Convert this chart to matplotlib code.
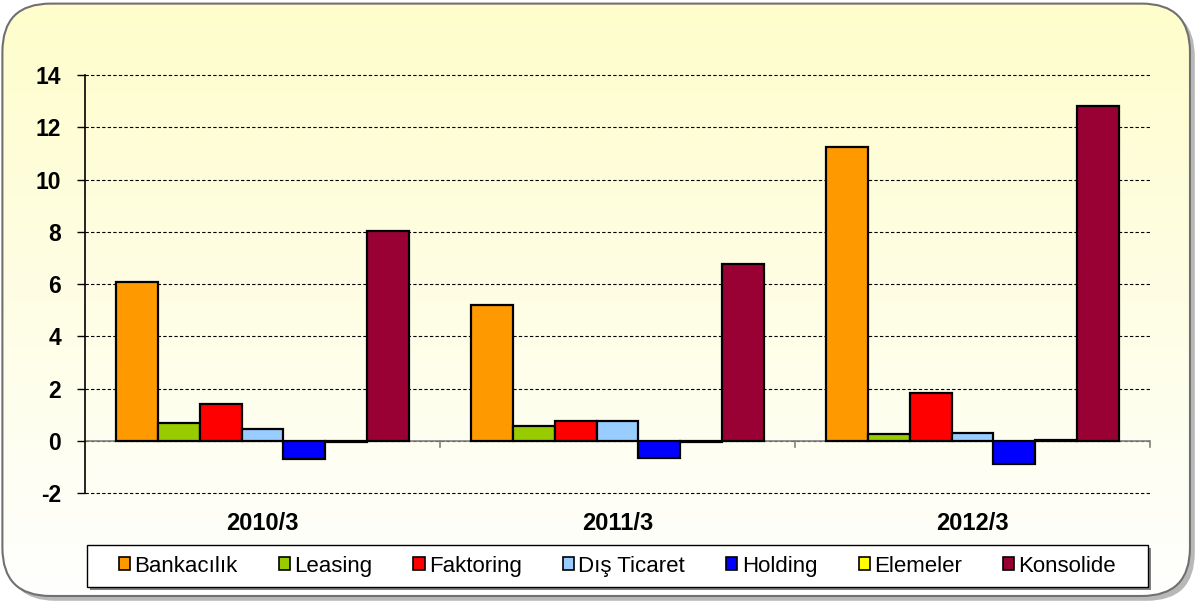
import numpy as np
import matplotlib.pyplot as plt
from matplotlib.patches import FancyBboxPatch, Rectangle
from matplotlib.colors import LinearSegmentedColormap


# Veriler
PERIODS = ['2010/3', '2011/3', '2012/3']
SERIES = ['Bankacılık', 'Leasing', 'Faktoring', 'Dış Ticaret', 'Holding', 'Elemeler', 'Konsolide']
BANKACILIK = [6.10, 5.20, 11.25]
LEASING = [0.68, 0.57, 0.27]
FAKTORING = [1.40, 0.74, 1.85]
DIS_TICARET = [0.47, 0.74, 0.29]
HOLDING = [-0.68, -0.64, -0.89]
ELEMELER = [-0.05, -0.05, 0.03]
KONSOLIDE = [8.03, 6.77, 12.82]
COLORS = ['#FF9900', '#99CC00', '#FF0000', '#99CCFF', '#0000FF', '#FFFF00', '#990033']
YTICKS = [-2, 0, 2, 4, 6, 8, 10, 12, 14]

plt.rcParams['font.family'] = ['Liberation Sans', 'DejaVu Sans']


def main () :
    values = [BANKACILIK, LEASING, FAKTORING, DIS_TICARET, HOLDING, ELEMELER, KONSOLIDE]

    fig = plt.figure (figsize=(12.02, 6.02), dpi=100)
    fig.patch.set_facecolor ('white')

    # arka plan: yuvarlak köşeli çerçeve ve sarıdan beyaza geçiş
    bg_ax = fig.add_axes ([0, 0, 1, 1], zorder=-1)
    bg_ax.set_axis_off ()
    bg_ax.set_xlim (0, 1)
    bg_ax.set_ylim (0, 1)
    box = dict (boxstyle='round,pad=0,rounding_size=0.04', mutation_aspect=2.0, transform=bg_ax.transAxes)
    shadow = FancyBboxPatch ((0.006, 0.002), 0.988, 0.984, facecolor='#B8B8B8', edgecolor='none', zorder=0, **box)
    bg_ax.add_patch (shadow)
    clip = FancyBboxPatch ((0.002, 0.010), 0.988, 0.984, facecolor='none', edgecolor='none', zorder=1, **box)
    bg_ax.add_patch (clip)
    cmap = LinearSegmentedColormap.from_list ('bg', ['#FFFFFF', '#FEFDCB'])
    grad = np.linspace (0, 1, 256).reshape (-1, 1)
    img = bg_ax.imshow (grad, aspect='auto', cmap=cmap, origin='lower', extent=[0, 1, 0, 1], zorder=1)
    img.set_clip_path (clip)
    frame = FancyBboxPatch ((0.002, 0.010), 0.988, 0.984, facecolor='none', edgecolor='#707070',
                            linewidth=1.5, zorder=2, **box)
    bg_ax.add_patch (frame)

    # lejant kutusu (gölgeli)
    bg_ax.add_patch (Rectangle ((0.0749, 0.0199), 0.8827, 0.0698, facecolor='#808080', edgecolor='none', zorder=3))
    bg_ax.add_patch (Rectangle ((0.0724, 0.0249), 0.8827, 0.0698, facecolor='white', edgecolor='black',
                                linewidth=1.0, zorder=4))

    ax = fig.add_axes ([0.0707, 0.181, 0.886, 0.694])
    ax.patch.set_alpha (0)

    x = np.arange (len (PERIODS))
    width = 0.118
    for i, (name, vals) in enumerate (zip (SERIES, values)) :
        offset = (i - 3) * width
        ax.bar (x + offset, vals, width, color=COLORS[i], edgecolor='black', linewidth=1.6,
                label=name, zorder=3)

    ax.set_xlim (-0.5, 2.5)
    ax.set_ylim (-2, 14)
    ax.set_yticks (YTICKS)
    ax.set_yticklabels ([str (t) for t in YTICKS], fontsize=16.5, fontweight='bold')
    ax.yaxis.grid (True, linestyle=(0, (3, 2)), color='black', linewidth=0.8, zorder=1)
    for line in ax.get_ygridlines () :
        line.set_clip_on (False)

    # kategori etiketleri altta, eksen çizgisi sıfırda
    ax.set_xticks (x)
    ax.set_xticklabels (PERIODS, fontsize=17, fontweight='bold')
    ax.tick_params (axis='x', length=0, pad=14)
    ax.tick_params (axis='y', length=6, direction='out', width=1, pad=11)
    for s in ['top', 'right', 'bottom'] :
        ax.spines[s].set_visible (False)
    ax.spines['left'].set_linewidth (1.2)
    ax.axhline (0, color='#808080', linewidth=1.2, zorder=2)
    for b in [0.5, 1.5, 2.5] :
        ax.plot ([b, b], [0, -0.25], color='#808080', linewidth=1.2, clip_on=False, zorder=2)

    handles, labels = ax.get_legend_handles_labels ()
    leg = fig.legend (handles, labels, loc='center', bbox_to_anchor=(0.5137, 0.0598), ncol=7, fontsize=16,
                      frameon=False, handlelength=0.5, handleheight=0.5, handletextpad=0.2,
                      columnspacing=1.85, borderpad=0.2)
    for h in leg.legend_handles :
        h.set_linewidth (1.2)

    plt.savefig ('out.png', dpi=100)


if __name__ == '__main__' :
    main ()
